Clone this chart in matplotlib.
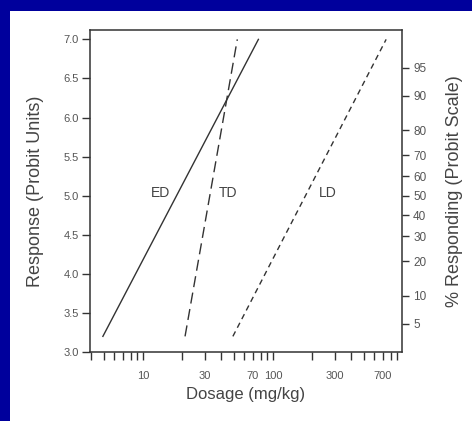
import numpy as np
import matplotlib.pyplot as plt
from matplotlib.patches import Rectangle
from matplotlib.ticker import LogLocator, FixedLocator, FixedFormatter, NullFormatter

plt.rcParams['font.family'] = ['Liberation Sans', 'DejaVu Sans']

# dose-response lines (dose in mg/kg, response in probit units)
ed_dose = [4.9, 77]
ed_resp = [3.2, 7.0]
td_dose = [21, 53]
td_resp = [3.2, 7.0]
ld_dose = [49, 740]
ld_resp = [3.2, 7.0]

curve_labels = ["ED", "TD", "LD"]
label_dose = [13.7, 45, 265]
label_resp = [5.04, 5.04, 5.04]

x_label_vals = [10, 30, 70, 100, 300, 700]
y_ticks = [3.0, 3.5, 4.0, 4.5, 5.0, 5.5, 6.0, 6.5, 7.0]
pct_labels = [5, 10, 20, 30, 40, 50, 60, 70, 80, 90, 95]
pct_probit = [3.36, 3.72, 4.16, 4.48, 4.75, 5.0, 5.25, 5.52, 5.84, 6.28, 6.64]

ink = '#333333'
txt = '#555555'

fig = plt.figure(figsize=(4.72, 4.21), dpi=100)
fig.patch.set_facecolor('white')
# blue frame on the left and top
fig.patches.append(Rectangle((0, 0), 10 / 472, 1, transform=fig.transFigure,
                             facecolor='#00009c', edgecolor='none', zorder=-5))
fig.patches.append(Rectangle((0, 1 - 11 / 421), 1, 11 / 421, transform=fig.transFigure,
                             facecolor='#00009c', edgecolor='none', zorder=-5))

ax = fig.add_axes([90 / 472, 1 - 352 / 421, 312 / 472, 322 / 421])
ax.set_facecolor('white')
ax.set_xscale('log')
ax.set_xlim(3.9, 980)
ax.set_ylim(3.0, 7.12)

ax.plot(ed_dose, ed_resp, color=ink, lw=1.0)
ax.plot(td_dose, td_resp, color=ink, lw=1.0, dashes=(8, 4))
ax.plot(ld_dose, ld_resp, color=ink, lw=1.0, dashes=(4, 3))
for name, xd, yd in zip(curve_labels, label_dose, label_resp):
    ax.text(xd, yd, name, color='#444444', fontsize=10, ha='center', va='center')

for s in ax.spines.values():
    s.set_color(ink)
    s.set_linewidth(1.1)

ax.xaxis.set_major_locator(LogLocator(base=10, subs=np.arange(1, 10)))
ax.xaxis.set_major_formatter(NullFormatter())
ax.xaxis.set_minor_formatter(NullFormatter())
ax.tick_params(axis='x', which='both', direction='out', length=6, width=1, color=ink)
for v in x_label_vals:
    ax.text(v, -0.06, str(v), transform=ax.get_xaxis_transform(), ha='center', va='top',
            fontsize=8, color=txt)

ax.set_yticks(y_ticks)
ax.set_yticklabels([f"{v:.1f}" for v in y_ticks], fontsize=8, color=txt)
ax.tick_params(axis='y', direction='out', length=6, width=1, color=ink, pad=2)

ax2 = ax.twinx()
ax2.set_ylim(ax.get_ylim())
ax2.yaxis.set_major_locator(FixedLocator(pct_probit))
ax2.yaxis.set_major_formatter(FixedFormatter([str(p) for p in pct_labels]))
ax2.tick_params(axis='y', direction='out', length=5, width=1, color=ink, labelsize=8.5,
                labelcolor=txt, pad=3)
for s in ax2.spines.values():
    s.set_visible(False)

ax.set_xlabel("Dosage (mg/kg)", fontsize=12, color='#444444', labelpad=16)
ax.set_ylabel("Response (Probit Units)", fontsize=13, color='#444444', labelpad=14)
ax2.set_ylabel("% Responding (Probit Scale)", fontsize=13, color='#444444', labelpad=14)

fig.savefig("out.png", dpi=100)
